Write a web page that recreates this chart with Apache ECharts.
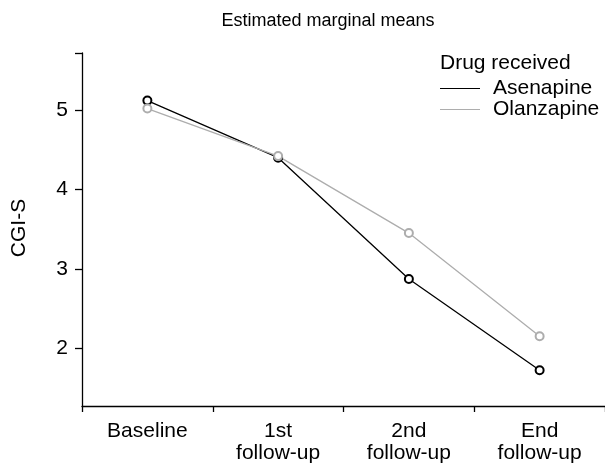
<!DOCTYPE html>
<html><head><meta charset="utf-8">
<script src="https://cdn.jsdelivr.net/npm/echarts@6/dist/echarts.min.js"></script>
<style>html,body{margin:0;padding:0;background:#fff}#c{width:605px;height:467px}</style>
</head><body><div id="c"></div>
<script>
const categories = ['Baseline', '1st\nfollow-up', '2nd\nfollow-up', 'End\nfollow-up'];
const asenapine = [5.12, 4.40, 2.87, 1.72];
const olanzapine = [5.02, 4.42, 3.45, 2.15];
const yTickLabels = [2, 3, 4, 5];
const yMin = 1.27, yMax = 5.72;

const FONT = "'Liberation Sans', Arial, sans-serif";
const chart = echarts.init(document.getElementById('c'), null, {renderer: 'canvas'});
chart.setOption({
  animation: false,
  backgroundColor: '#fff',
  title: [
    {text: 'Estimated marginal means', left: 323, textAlign: 'center', top: 7,
     textStyle: {fontFamily: FONT, fontSize: 18, fontWeight: 'normal', color: '#000'}},
    {text: 'Drug received', left: 435, top: 48, padding: 5,
     textStyle: {fontFamily: FONT, fontSize: 21, fontWeight: 'normal', color: '#000'}}
  ],
  legend: {
    orient: 'vertical', left: 440, top: 78, padding: 0, itemWidth: 40, itemHeight: 1.2, itemGap: 0,
    icon: 'rect',
    textStyle: {fontFamily: FONT, fontSize: 21, lineHeight: 20, color: '#000', padding: [0, 0, 0, 8]},
    data: [
      {name: 'Asenapine', itemStyle: {color: '#000'}},
      {name: 'Olanzapine', itemStyle: {color: '#adadad'}}
    ]
  },
  graphic: [{
    type: 'text', x: 9, y: 228, rotation: Math.PI / 2,
    style: {text: 'CGI-S', font: '21px ' + FONT, fill: '#000', align: 'center', verticalAlign: 'top'}
  }],
  grid: {left: 82, right: -1, top: 53, bottom: 61, containLabel: false},
  xAxis: {
    type: 'category', data: categories, boundaryGap: true,
    axisLine: {lineStyle: {color: '#000', width: 1.3}},
    axisTick: {show: true, length: 6, lineStyle: {color: '#000', width: 1.3}},
    axisLabel: {fontFamily: FONT, fontSize: 21, color: '#000', margin: 14, lineHeight: 22, interval: 0}
  },
  yAxis: {
    type: 'value', min: yMin, max: yMax,
    splitLine: {show: false},
    axisLine: {show: true, lineStyle: {color: '#000', width: 1.3}},
    axisTick: {show: true, length: 7, lineStyle: {color: '#000', width: 1.3},
               customValues: yTickLabels.concat([yMax])},
    axisLabel: {fontFamily: FONT, fontSize: 21, color: '#000', margin: 14,
                customValues: yTickLabels}
  },
  series: [
    {name: 'Asenapine', type: 'line', data: asenapine, symbol: 'emptyCircle', symbolSize: 8,
     lineStyle: {color: '#000', width: 1.3}, itemStyle: {color: '#000', borderWidth: 1.3}},
    {name: 'Olanzapine', type: 'line', data: olanzapine, symbol: 'emptyCircle', symbolSize: 8,
     lineStyle: {color: '#adadad', width: 1.3}, itemStyle: {color: '#adadad', borderWidth: 1.3}}
  ]
});
</script></body></html>
